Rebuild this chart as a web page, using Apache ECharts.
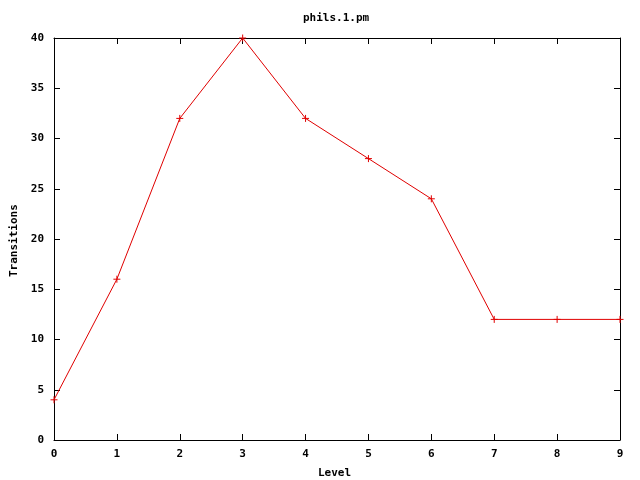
<!DOCTYPE html>
<html><head><meta charset="utf-8">
<script src="https://cdn.jsdelivr.net/npm/echarts@6/dist/echarts.min.js"></script>
<style>html,body{margin:0;padding:0;background:#fff}#c{width:640px;height:480px}</style>
</head><body><div id="c"></div>
<script>
const levels = [0,1,2,3,4,5,6,7,8,9];
const transitions = [4,16,32,40,32,28,24,12,12,12];
const titleText = 'phils.1.pm';
const xLabel = 'Level';
const yLabel = 'Transitions';

const font = 'DejaVu Sans Mono';
const chart = echarts.init(document.getElementById('c'), null, {renderer:'canvas'});
function ax(extra){
  return Object.assign({
    type:'value',
    axisLine:{show:true, onZero:false, lineStyle:{color:'#000', width:1}},
    axisTick:{show:true, inside:true, length:6, lineStyle:{color:'#000'}},
    splitLine:{show:false},
  }, extra);
}
chart.setOption({
  animation:false,
  backgroundColor:'#fff',
  grid:{left:54, right:20, top:38, bottom:40},
  xAxis:[
    ax({min:0, max:9, interval:1, position:'bottom',
      axisLabel:{color:'#000', fontFamily:font, fontWeight:'bold', fontSize:11, margin:9}}),
    ax({min:0, max:9, interval:1, position:'top', axisLabel:{show:false}})
  ],
  yAxis:[
    ax({min:0, max:40, interval:5, position:'left',
      axisLabel:{color:'#000', fontFamily:font, fontWeight:'bold', fontSize:11, margin:10}}),
    ax({min:0, max:40, interval:5, position:'right', axisLabel:{show:false}})
  ],
  graphic:[
    {type:'text', left:303, top:13, style:{text:titleText, font:'bold 11px "DejaVu Sans Mono"', fill:'#000'}},
    {type:'text', left:318, top:468, style:{text:xLabel, font:'bold 11px "DejaVu Sans Mono"', fill:'#000'}},
    {type:'text', x:9, y:277, rotation:Math.PI/2, style:{text:yLabel, font:'bold 11px "DejaVu Sans Mono"', fill:'#000'}}
  ],
  series:[{
    type:'line',
    xAxisIndex:0, yAxisIndex:0,
    data: levels.map((l,i)=>[l, transitions[i]]),
    lineStyle:{color:'#e00000', width:1},
    itemStyle:{color:'#e00000', borderColor:'#e00000', borderWidth:1},
    symbol:'path://M0,-4L0,4M-4,0L4,0',
    symbolSize:7,
    showAllSymbol:true,
    clip:false
  }]
});
</script></body></html>
